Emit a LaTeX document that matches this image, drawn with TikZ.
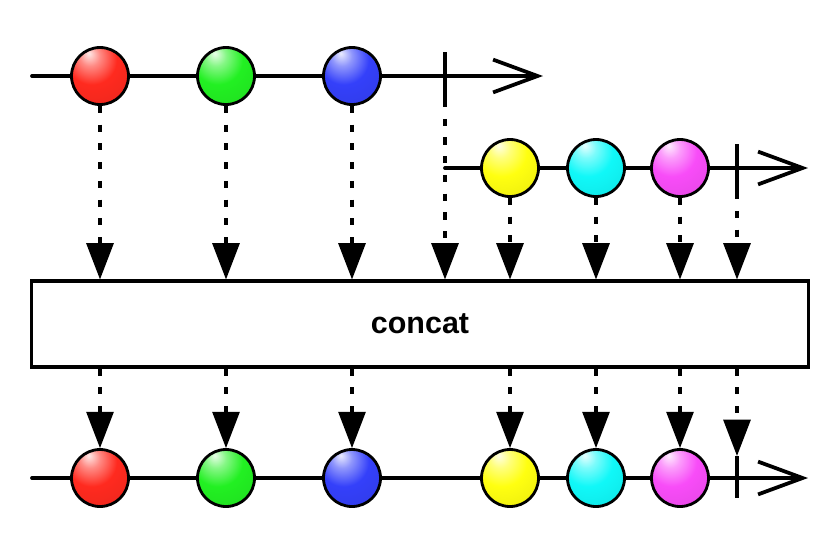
\documentclass[tikz,border=0pt]{standalone}
\usepackage{fontspec}
\setmainfont{Liberation Sans}
\usepackage{xcolor}
\usepackage{tikz}
\usetikzlibrary{arrows.meta,calc}
\definecolor{rxrouge}{HTML}{FF2A1F}
\definecolor{rxvert}{HTML}{22F022}
\definecolor{rxbleu}{HTML}{3440FA}
\definecolor{rxjaune}{HTML}{FFFF10}
\definecolor{rxcyan}{HTML}{10F8F8}
\definecolor{rxmagenta}{HTML}{F84CF8}
\colorlet{rxbille}{red}
\pgfdeclareradialshading[rxbille]{bilbrillante}{\pgfpoint{-10bp}{20bp}}{%
  color(0bp)=(rxbille!10!white); color(9bp)=(rxbille!55!white);
  color(22bp)=(rxbille); color(55bp)=(rxbille!88!black);
  color(80bp)=(rxbille!70!black)}

\begin{document}
\begin{tikzpicture}[
    x=0.03cm,y=-0.03cm,
    bille/.style   = {circle, draw=black, line width=2.4pt, minimum size=1.71cm,
                      inner sep=0pt, /utils/exec={\colorlet{rxbille}{#1}},
                      shading=bilbrillante},
    axe/.style     = {line width=3.2pt, line cap=round,
                      -{Straight Barb[length=38pt,width=28pt,line width=3.2pt]}},
    fin/.style     = {minimum width=0pt, minimum height=1.44cm, inner sep=0pt,
                      outer sep=0pt},
    trait/.style   = {line width=3.2pt},
    fleche/.style  = {line width=2.7pt, dash pattern=on 6pt off 10pt,
                      -{Triangle[length=31pt,width=23pt]}},
    operateur/.style = {draw=black, fill=white, line width=2.6pt,
                      minimum width=23.31cm, minimum height=2.58cm,
                      font=\bfseries\fontsize{26}{30}\selectfont},
  ]
  \useasboundingbox (0,0) rectangle (840,547);

  \coordinate (d1) at (32,76);   \coordinate (f1) at (543,76);
  \coordinate (d2) at (445,168); \coordinate (f2) at (808,168);
  \coordinate (d3) at (32,478);  \coordinate (f3) at (808,478);
  \draw[axe] (d1) -- (f1);
  \draw[axe] (d2) -- (f2);
  \draw[axe] (d3) -- (f3);

  \node[operateur] (op) at (420,324) {concat};

  \foreach \n/\x/\c in {a1/100/rxrouge,a2/226/rxvert,a3/352/rxbleu}
    \node[bille=\c] (\n) at (\x,76) {};
  \foreach \n/\x/\c in {b1/510/rxjaune,b2/596/rxcyan,b3/680/rxmagenta}
    \node[bille=\c] (\n) at (\x,168) {};
  \foreach \n/\x/\c in {c1/100/rxrouge,c2/226/rxvert,c3/352/rxbleu,
                        c4/510/rxjaune,c5/596/rxcyan,c6/680/rxmagenta}
    \node[bille=\c] (\n) at (\x,478) {};

  \node[fin] (e1) at (445,76) {};
  \node[fin] (e2) at (737,168) {};
  \node[fin,minimum height=1.26cm] (e3) at (737,477) {};
  \foreach \e in {e1,e2,e3} \draw[trait] (\e.north) -- (\e.south);

  \foreach \n in {a1,a2,a3,e1,b1,b2,b3,e2}
    \draw[fleche] (\n.south) -- (\n |- op.north);
  \foreach \n in {c1,c2,c3,c4,c5,c6,e3}
    \draw[fleche] (\n |- op.south) -- (\n.north);

\end{tikzpicture}
\end{document}
